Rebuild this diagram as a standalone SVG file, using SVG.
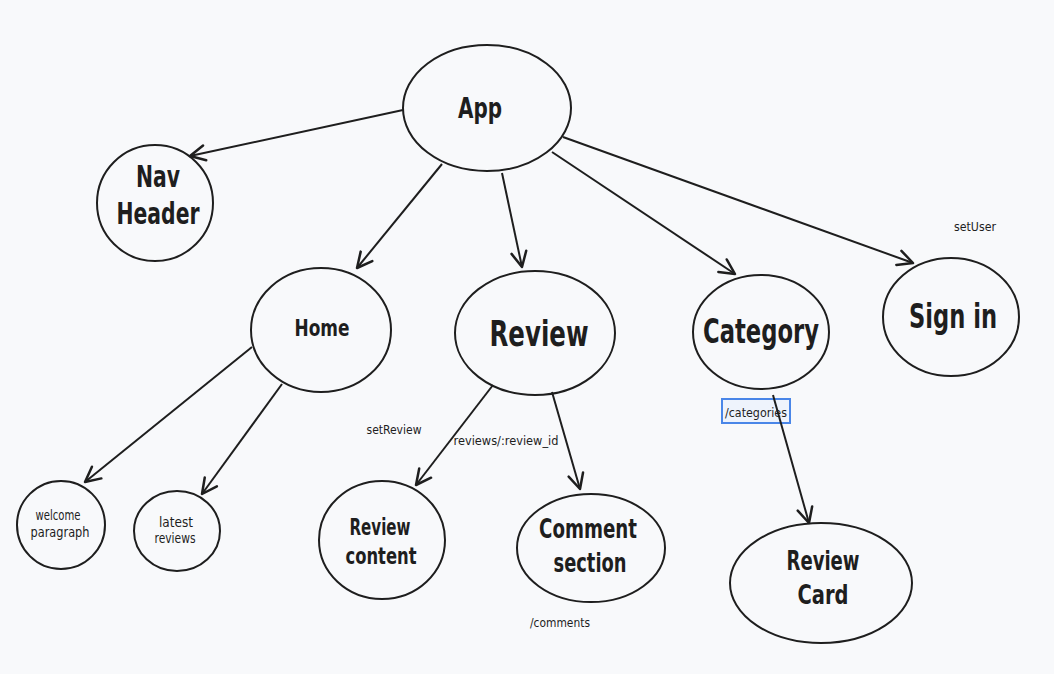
<svg xmlns="http://www.w3.org/2000/svg" width="1054" height="674" viewBox="0 0 1054 674">
<style>
.n{fill:none;stroke:#1e1e1e;stroke-width:2}
.t{font-family:"DejaVu Sans Condensed","Liberation Sans",sans-serif;font-weight:bold;fill:#1e1e1e;text-anchor:middle}
.s{font-family:"DejaVu Sans Condensed","Liberation Sans",sans-serif;fill:#1e1e1e;text-anchor:middle}
.c{fill:none;stroke:#1e1e1e;stroke-width:2;marker-end:url(#ah)}
</style>
<defs>
<marker id="ah" markerUnits="userSpaceOnUse" markerWidth="20" markerHeight="20" viewBox="-14 -8 16 16" refX="0" refY="0" orient="auto">
<path d="M-12,-6 L0,0 L-12,6" fill="none" stroke="#1e1e1e" stroke-width="2" stroke-linecap="round" stroke-linejoin="round"/>
</marker>
</defs>
<rect width="1054" height="674" fill="#f8f9fb"/>
<g id="labels">
<text class="s" x="975" y="231" font-size="13" textLength="42" lengthAdjust="spacingAndGlyphs">setUser</text>
<text class="s" x="394" y="434" font-size="13" textLength="55" lengthAdjust="spacingAndGlyphs">setReview</text>
<text class="s" x="506" y="445" font-size="13" textLength="105" lengthAdjust="spacingAndGlyphs">reviews/:review_id</text>
<text class="s" x="560" y="627" font-size="13" textLength="60" lengthAdjust="spacingAndGlyphs">/comments</text>
<rect x="722" y="399" width="68" height="24" fill="#eef3fc" stroke="#4a86e8" stroke-width="2"/>
<text class="s" x="756" y="417" font-size="13" textLength="62" lengthAdjust="spacingAndGlyphs">/categories</text>
</g>
<g id="connectors">
<line class="c" x1="403" y1="110" x2="190" y2="156"/>
<line class="c" x1="442" y1="164" x2="357" y2="268"/>
<line class="c" x1="502" y1="173" x2="522" y2="267"/>
<line class="c" x1="552" y1="152" x2="735" y2="274"/>
<line class="c" x1="563" y1="137" x2="913" y2="263"/>
<line class="c" x1="252" y1="347" x2="85" y2="482"/>
<line class="c" x1="282" y1="384" x2="202" y2="494"/>
<line class="c" x1="493" y1="385" x2="416" y2="485"/>
<line class="c" x1="552" y1="392" x2="580" y2="489"/>
<line class="c" x1="773" y1="395" x2="809" y2="523"/>
</g>
<g id="app"><ellipse class="n" cx="487" cy="108" rx="84" ry="63"/><text class="t" x="480" y="118" font-size="29" textLength="44" lengthAdjust="spacingAndGlyphs">App</text></g>
<g id="nav-header"><circle class="n" cx="155" cy="203" r="58"/><text class="t" x="158" y="187" font-size="30" textLength="44" lengthAdjust="spacingAndGlyphs">Nav</text><text class="t" x="158" y="224" font-size="30" textLength="83" lengthAdjust="spacingAndGlyphs">Header</text></g>
<g id="home"><ellipse class="n" cx="321" cy="330" rx="70" ry="62"/><text class="t" x="322" y="336" font-size="23" textLength="55" lengthAdjust="spacingAndGlyphs">Home</text></g>
<g id="review"><ellipse class="n" cx="535" cy="333" rx="80" ry="62"/><text class="t" x="539" y="346" font-size="35" textLength="99" lengthAdjust="spacingAndGlyphs">Review</text></g>
<g id="category"><ellipse class="n" cx="761" cy="332" rx="68" ry="57"/><text class="t" x="761" y="343" font-size="33" textLength="116" lengthAdjust="spacingAndGlyphs">Category</text></g>
<g id="sign-in"><ellipse class="n" cx="951" cy="317" rx="68" ry="59"/><text class="t" x="953" y="328" font-size="33" textLength="88" lengthAdjust="spacingAndGlyphs">Sign in</text></g>
<g id="welcome-paragraph"><ellipse class="n" cx="61" cy="525" rx="44" ry="44"/><text class="s" x="58" y="520" font-size="14" textLength="45" lengthAdjust="spacingAndGlyphs">welcome</text><text class="s" x="60" y="537" font-size="14" textLength="59" lengthAdjust="spacingAndGlyphs">paragraph</text></g>
<g id="latest-reviews"><ellipse class="n" cx="177" cy="531" rx="43" ry="40"/><text class="s" x="176" y="527" font-size="14" textLength="34" lengthAdjust="spacingAndGlyphs">latest</text><text class="s" x="175" y="543" font-size="14" textLength="41" lengthAdjust="spacingAndGlyphs">reviews</text></g>
<g id="review-content"><ellipse class="n" cx="382" cy="540" rx="63" ry="59"/><text class="t" x="380" y="535" font-size="23" textLength="61" lengthAdjust="spacingAndGlyphs">Review</text><text class="t" x="381" y="564" font-size="23" textLength="71" lengthAdjust="spacingAndGlyphs">content</text></g>
<g id="comment-section"><ellipse class="n" cx="591" cy="548" rx="74" ry="54"/><text class="t" x="588" y="538" font-size="26" textLength="98" lengthAdjust="spacingAndGlyphs">Comment</text><text class="t" x="590" y="572" font-size="26" textLength="73" lengthAdjust="spacingAndGlyphs">section</text></g>
<g id="review-card"><ellipse class="n" cx="821" cy="583" rx="91" ry="60"/><text class="t" x="823" y="570" font-size="27" textLength="73" lengthAdjust="spacingAndGlyphs">Review</text><text class="t" x="823" y="604" font-size="27" textLength="51" lengthAdjust="spacingAndGlyphs">Card</text></g>
</svg>
